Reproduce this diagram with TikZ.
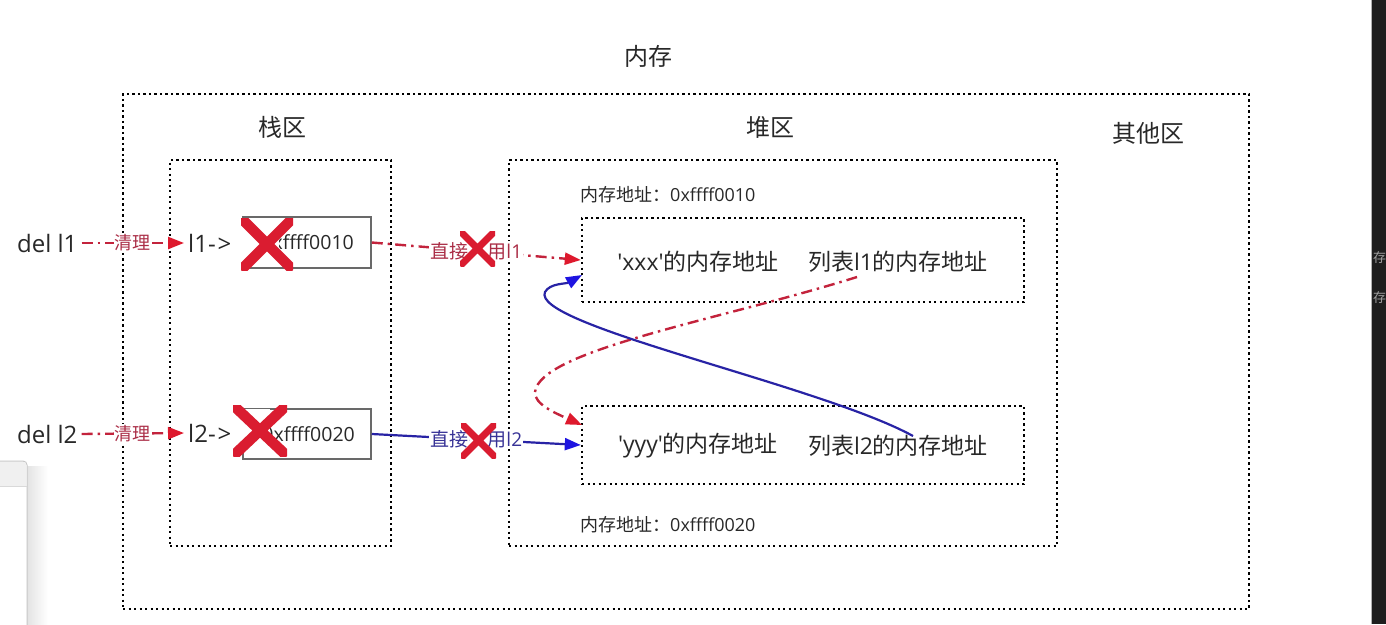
\documentclass[tikz,border=0pt]{standalone}
\usepackage{fontspec}
\setmainfont{Open Sans}
\newfontfamily\cjk{Noto Sans CJK SC}
\usetikzlibrary{arrows.meta,calc}
\definecolor{lnred}{RGB}{195,35,60}
\definecolor{tipred}{RGB}{222,25,45}
\definecolor{txtred}{RGB}{170,45,70}
\definecolor{xred}{RGB}{218,28,48}
\definecolor{lnblue}{RGB}{40,35,165}
\definecolor{tipblue}{RGB}{30,20,225}
\definecolor{txtblue}{RGB}{55,50,150}
\definecolor{txtgray}{RGB}{40,40,40}
\definecolor{boxgray}{RGB}{105,105,105}
\definecolor{darkband}{RGB}{30,30,30}
\newcommand\fsz[1]{\fontsize{#1}{#1}\selectfont}
\tikzset{
 dotbox/.style={draw=black, line width=2.4pt, dash pattern=on 2.4pt off 3.1pt, inner sep=0pt},
 solidbox/.style={draw=boxgray, line width=1.5pt, inner sep=0pt},
 txt/.style={inner sep=0pt, text=txtgray},
 redl/.style={draw=lnred, line width=2.4pt, dash pattern=on 11pt off 5pt on 2.5pt off 5pt, -{Triangle[length=16pt,width=12pt,color=tipred]}},
 bluel/.style={draw=lnblue, line width=2.2pt, -{Triangle[length=16pt,width=12pt,color=tipblue]}},
 redlab/.style={fill=white, text=txtred, inner sep=1pt, font=\fsz{19}},
 bluelab/.style={fill=white, text=txtblue, inner sep=1pt, font=\fsz{19}},
 xstroke/.style={draw=xred, line width=10.5pt},
 sxstroke/.style={draw=xred, line width=7pt},
}
\begin{document}
\begin{tikzpicture}[x=1pt,y=-1pt]
\useasboundingbox (0,0) rectangle (1386,624);
\fill[white] (0,0) rectangle (1386,624);

% screen artifacts
\fill[darkband] (1372,0) rectangle (1386,624);
\draw[gray!60, line width=1pt] (1371.5,0) -- (1371.5,624);
\node[anchor=west, inner sep=0pt, text=gray!75, font=\cjk\fsz{13}] (g1) at (1373,258) {存};
\node[anchor=west, inner sep=0pt, text=gray!75, font=\cjk\fsz{13}] (g2) at (1373,298) {存};
\shade[left color=gray!22, right color=white] (27,466) rectangle (48,624);
\draw[draw=gray!45, fill=white, line width=1pt] (-2,626) -- (-2,461) [rounded corners=4pt] -- (27,461) [sharp corners] -- (27,626);
\fill[gray!12] (-2,462) [rounded corners=3pt] -- (26.5,462) [sharp corners] -- (26.5,486) -- (-2,486) -- cycle;
\draw[gray!30, line width=0.8pt] (-2,486) -- (26.5,486);

% dotted regions
\node[dotbox, minimum width=1126pt, minimum height=515pt] (outer) at (686,351.5) {};
\node[dotbox, minimum width=221pt, minimum height=386pt] (stack) at (280.5,353) {};
\node[dotbox, minimum width=548pt, minimum height=386pt] (heap) at (783,353) {};
\node[dotbox, minimum width=442pt, minimum height=84pt] (hb1) at (803,260) {};
\node[dotbox, minimum width=442pt, minimum height=78pt] (hb2) at (803,445) {};

% titles
\node[txt, font=\cjk\fsz{24}] (tmem) at (648,56) {内存};
\node[txt, font=\cjk\fsz{24}] (tstack) at (282,127) {栈区};
\node[txt, font=\cjk\fsz{24}] (theap) at (770,127) {堆区};
\node[txt, font=\cjk\fsz{24}] (tother) at (1148,133) {其他区};

% stack boxes
\node[solidbox, minimum width=128pt, minimum height=51pt] (box1) at (307,242.5) {};
\node[solidbox, minimum width=128pt, minimum height=50pt] (box2) at (307,434) {};
\node[txt, anchor=east, font=\fsz{19.5}] (v1) at (354,242) {0xffff0010};
\node[txt, anchor=east, font=\fsz{19.5}] (v2) at (355,434) {0xffff0020};

% del / name texts
\node[txt, anchor=west, inner sep=4pt, font=\fsz{24}] (del1) at (13,243) {del l1};
\node[txt, anchor=west, inner sep=4pt, font=\fsz{24}] (del2) at (13,434) {del l2};
\node[txt, anchor=west, inner sep=4pt, font=\fsz{24}] (n1) at (184,243) {l1-\kern2pt>};
\node[txt, anchor=west, inner sep=4pt, font=\fsz{24}] (n2) at (184,433) {l2-\kern2pt>};

% heap texts
\node[txt, anchor=west, font=\fsz{18}] (a1) at (580,195) {{\cjk 内存地址：}0xffff0010};
\node[txt, anchor=west, font=\fsz{18}] (a2) at (580,525) {{\cjk 内存地址：}0xffff0020};
\node[txt, font=\fsz{23}] (x1) at (698,262) {\textquotesingle xxx\textquotesingle{\cjk 的内存地址}};
\node[txt, font=\fsz{23}] (l1t) at (898,262) {{\cjk 列表}l1{\cjk 的内存地址}};
\node[txt, font=\fsz{23}] (y1) at (698,446) {\textquotesingle yyy\textquotesingle{\cjk 的内存地址}};
\node[txt, font=\fsz{23}] (l2t) at (898,446) {{\cjk 列表}l2{\cjk 的内存地址}};

% connectors
\draw[redl] (del1.east) -- node[redlab, font=\cjk\fsz{18}] (c1) {清理} (n1.west);
\draw[redl] (del2.east) -- node[redlab, font=\cjk\fsz{18}] (c2) {清理} (n2.west);
\draw[redl] (box1.east) -- node[redlab] (r1) {{\cjk 直接引用}l1} (hb1.west);
\draw[bluel] (box2.east) -- node[bluelab] (r2) {{\cjk 直接引用}l2} (hb2.west);

\coordinate (rs) at (857,277);
\coordinate (re) at (582,425);
\draw[redl] (rs) .. controls (720,320) and (540,350) .. (535,392) .. controls (534,404) and (555,413) .. (re);
\coordinate (bs) at (913,436);
\coordinate (be) at (582,275);
\draw[bluel] (bs) .. controls (820,385) and (530,325) .. (545,292) .. controls (550,283) and (566,284) .. (be);

% big crosses (white backing covers the hidden part of each box)
\fill[white] (241,222) rectangle (279,266);
\begin{scope}
\clip (241,218) rectangle (293,270);
\draw[xstroke] (241,218) -- (293,270) (293,218) -- (241,270);
\end{scope}
\fill[white] (233,409) rectangle (270,452);
\begin{scope}
\clip (233,405) rectangle (287,456);
\draw[xstroke] (233,405) -- (287,456) (287,405) -- (233,456);
\end{scope}
% small crosses over the labels
\fill[white] (469,238) rectangle (487,260);
\begin{scope}
\clip (460,231) rectangle (495,266);
\draw[sxstroke] (460,231) -- (495,266) (495,231) -- (460,266);
\end{scope}
\fill[white] (470,430) rectangle (488,452);
\begin{scope}
\clip (461,423) rectangle (496,458);
\draw[sxstroke] (461,423) -- (496,458) (496,423) -- (461,458);
\end{scope}
\end{tikzpicture}
\end{document}
